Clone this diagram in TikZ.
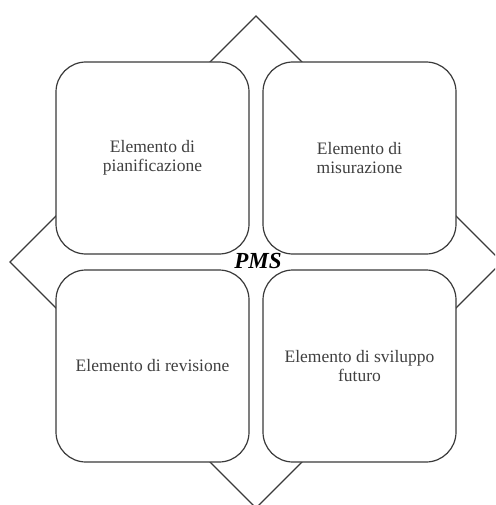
\documentclass[tikz,border=0pt]{standalone}
\usepackage{fontspec}
\setmainfont{Liberation Serif}
\definecolor{ink}{HTML}{3A3A3A}
\definecolor{txt}{HTML}{404040}
\begin{document}
\begin{tikzpicture}[x=1pt,y=-1pt,
  quad/.style={draw=ink, line width=1.2pt, fill=white, rounded corners=30pt,
    minimum width=193pt, minimum height=192pt, inner sep=0pt,
    align=center, text=txt, font=\fontsize{17.5}{19}\selectfont},
  frame/.style={draw=ink, line width=1.1pt, line join=miter}]
  \useasboundingbox (0,0) rectangle (495,505);
  \clip (0,0) rectangle (495,505);
  % background diamond
  \coordinate (dt) at (256,16);
  \coordinate (dl) at (10,262);
  \coordinate (dr) at (502,262);
  \coordinate (db) at (256,508);
  \draw[frame] (dt) -- (dr) -- (db) -- (dl) -- cycle;
  % four elements
  \node[quad] (plan) at (152.5,158) {Elemento di\\pianificazione};
  \node[quad] (meas) at (359.5,158) {Elemento di\\misurazione};
  \node[quad] (rev)  at (152.5,366) {Elemento di revisione};
  \node[quad] (dev)  at (359.5,366) {Elemento di sviluppo\\futuro};
  % centre label
  \node[font=\fontsize{23}{24}\selectfont\bfseries\itshape, inner sep=0pt] (pms) at (258,261) {PMS};
\end{tikzpicture}
\end{document}
